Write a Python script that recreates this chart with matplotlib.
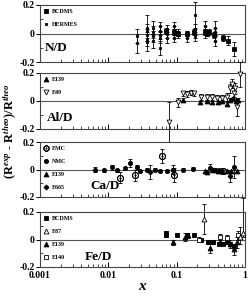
import numpy as np
import matplotlib
matplotlib.use("Agg")
import matplotlib.pyplot as plt
from matplotlib.lines import Line2D
from matplotlib.ticker import FixedLocator, NullFormatter

plt.rcParams['font.family'] = ['Liberation Serif', 'DejaVu Serif']
plt.rcParams['font.weight'] = 'bold'
plt.rcParams['mathtext.fontset'] = 'custom'
plt.rcParams['mathtext.rm'] = 'Liberation Serif:bold'
plt.rcParams['mathtext.it'] = 'Liberation Serif:bold:italic'
plt.rcParams['mathtext.bf'] = 'Liberation Serif:bold'

# ---- N/D ----
bcdms_n_x = [0.07, 0.09, 0.106, 0.14, 0.18, 0.26, 0.28, 0.30, 0.35, 0.47, 0.57, 0.68]
bcdms_n_y = [0.02, 0.01, 0.0, 0.0, 0.01, 0.01, 0.0, 0.01, -0.01, -0.03, -0.05, -0.11]
bcdms_n_e = [0.02, 0.02, 0.02, 0.02, 0.02, 0.02, 0.02, 0.02, 0.02, 0.02, 0.03, 0.05]

hermes_n_x = [0.026, 0.026,
              0.0365, 0.0365, 0.0365, 0.0365, 0.0365,
              0.0456, 0.0456, 0.0456, 0.0456,
              0.057, 0.057, 0.057, 0.057, 0.057,
              0.0716, 0.0716, 0.0716,
              0.0916, 0.0916, 0.0916, 0.0916,
              0.106, 0.106,
              0.141, 0.141, 0.141,
              0.186, 0.186, 0.186, 0.186,
              0.26, 0.26, 0.26,
              0.365, 0.365, 0.365, 0.365]
hermes_n_y = [-0.02, -0.07,
              0.04, 0.02, -0.01, -0.04, -0.06,
              0.04, 0.01, -0.02, -0.05,
              0.05, 0.02, -0.01, -0.03, -0.10,
              0.03, 0.0, -0.03,
              0.05, 0.02, 0.0, -0.03,
              0.01, -0.01,
              0.0, -0.01, -0.03,
              0.13, 0.03, 0.0, -0.02,
              0.05, 0.02, 0.0,
              0.04, 0.01, -0.02, -0.05]
hermes_n_e = [0.05, 0.07,
              0.09, 0.05, 0.04, 0.05, 0.06,
              0.05, 0.04, 0.04, 0.05,
              0.03, 0.03, 0.03, 0.04, 0.05,
              0.03, 0.03, 0.04,
              0.03, 0.03, 0.03, 0.03,
              0.02, 0.02,
              0.02, 0.02, 0.03,
              0.09, 0.04, 0.03, 0.03,
              0.04, 0.03, 0.03,
              0.05, 0.03, 0.03, 0.04]

# ---- Al/D ----
e139_al_x = [0.125, 0.22, 0.275, 0.33, 0.40, 0.46, 0.54, 0.60, 0.67, 0.74, 0.80]
e139_al_y = [0.01, -0.01, 0.0, -0.01, -0.01, 0.0, -0.02, 0.01, 0.02, 0.0, 0.01]
e139_al_e = [0.01, 0.01, 0.01, 0.01, 0.01, 0.01, 0.01, 0.01, 0.01, 0.01, 0.01]

e49_al_x = [0.0775, 0.104, 0.125, 0.14, 0.16, 0.18, 0.224, 0.275, 0.33, 0.386,
            0.46, 0.54, 0.60, 0.64, 0.68, 0.72, 0.77, 0.84]
e49_al_y = [-0.15, -0.01, 0.055, 0.05, 0.06, 0.055, 0.03, 0.03, 0.03, 0.02,
            0.02, 0.03, 0.09, 0.125, 0.06, 0.09, -0.045, 0.19]
e49_al_e = [0.14, 0.03, 0.02, 0.02, 0.02, 0.02, 0.02, 0.02, 0.02, 0.02,
            0.02, 0.03, 0.03, 0.03, 0.03, 0.04, 0.065, 0.09]

# ---- Ca/D ----
emc_ca_x = [0.0148, 0.0247, 0.0605, 0.092, 0.48]
emc_ca_y = [-0.06, -0.04, 0.10, -0.04, -0.01]
emc_ca_e = [0.04, 0.04, 0.05, 0.05, 0.02]

nmc_ca_x = [0.0064, 0.0085, 0.0112, 0.0133, 0.0176, 0.0208, 0.026, 0.029, 0.0365,
            0.048, 0.057, 0.0716, 0.089, 0.125, 0.176, 0.31, 0.36, 0.42, 0.70]
nmc_ca_y = [0.0, -0.005, 0.015, -0.005, 0.01, 0.045, 0.02, -0.01, 0.0,
            0.0, -0.01, -0.01, 0.0, 0.0, 0.005, 0.01, 0.0, -0.005, 0.02]
nmc_ca_e = [0.02, 0.01, 0.015, 0.01, 0.01, 0.03, 0.015, 0.01, 0.01,
            0.01, 0.01, 0.01, 0.01, 0.01, 0.01, 0.03, 0.01, 0.01, 0.08]

e139_ca_x = [0.26, 0.28, 0.34, 0.40, 0.46, 0.55, 0.62, 0.76]
e139_ca_y = [-0.01, -0.02, 0.0, -0.01, -0.01, -0.01, -0.01, -0.01]
e139_ca_e = [0.01, 0.01, 0.01, 0.01, 0.01, 0.01, 0.01, 0.01]

e665_ca_x = [0.041, 0.089, 0.60]
e665_ca_y = [-0.02, 0.0, -0.05]
e665_ca_e = [0.05, 0.03, 0.04]

# ---- Fe/D ----
bcdms_fe_x = [0.07, 0.07, 0.10, 0.14, 0.18, 0.23, 0.29, 0.34, 0.41, 0.48, 0.54, 0.60, 0.68]
bcdms_fe_y = [0.05, 0.03, 0.035, 0.03, 0.03, 0.0, -0.02, -0.02, -0.03, -0.03, -0.02, -0.03, -0.05]
bcdms_fe_e = [0.01, 0.01, 0.01, 0.01, 0.01, 0.01, 0.01, 0.01, 0.01, 0.01, 0.01, 0.01, 0.02]

e87_fe_x = [0.25, 0.85, 0.94]
e87_fe_y = [0.15, 0.02, 0.05]
e87_fe_lo = [0.11, 0.05, 0.03]
e87_fe_hi = [0.11, 0.07, 0.25]

e139_fe_x = [0.089, 0.133, 0.147, 0.31, 0.43, 0.60, 0.68, 0.76]
e139_fe_y = [-0.02, 0.02, 0.03, -0.06, -0.02, -0.03, -0.07, -0.02]
e139_fe_e = [0.02, 0.03, 0.02, 0.04, 0.02, 0.03, 0.04, 0.04]

e140_fe_x = [0.21, 0.43, 0.54, 0.80]
e140_fe_y = [0.0, 0.02, 0.01, 0.03]
e140_fe_e = [0.02, 0.02, 0.02, 0.03]

panel_names = ['N/D', 'Al/D', 'Ca/D', 'Fe/D']


def eb(ax, x, y, err, marker, ms, filled=True):
    mfc = 'black' if filled else 'white'
    c = ax.errorbar(x, y, yerr=err, fmt='', marker=marker, ls='none', ms=ms,
                    mfc=mfc, mec='black', mew=0.6, color='black', ecolor='black',
                    elinewidth=0.6, capsize=1.5, capthick=0.6, zorder=3)
    c.lines[0].set_clip_on(False)
    for a in c.lines[1]:
        a.set_clip_on(False)
    for a in c.lines[2]:
        a.set_clip_on(False)


def h(marker, ms, filled=True):
    return Line2D([], [], ls='none', marker=marker, ms=ms,
                  mfc='black' if filled else 'white', mec='black', mew=0.6)


fig = plt.figure(figsize=(2.49, 2.98), dpi=100)
L, W = 40 / 249, 205 / 249
tops = [5, 73, 142, 212]
bots = [62, 129, 197, 267]
axes = []
for t, b in zip(tops, bots):
    axes.append(fig.add_axes([L, 1 - b / 298, W, (b - t) / 298]))

for i, ax in enumerate(axes):
    ax.set_xscale('log')
    ax.set_xlim(0.001, 1)
    ax.set_ylim(-0.2, 0.2)
    ax.axhline(0, color='#555555', lw=0.8, zorder=1)
    ax.set_yticks([-0.2, 0, 0.2])
    ax.set_yticklabels(['-0.2', '0', '0.2'])
    ax.yaxis.set_minor_locator(FixedLocator([-0.1, 0.1]))
    ax.tick_params(axis='y', which='major', direction='out', length=3, width=0.7,
                   labelsize=7, pad=1)
    ax.tick_params(axis='y', which='minor', direction='in', length=2, width=0.5)
    ax.tick_params(axis='x', which='major', direction='in', length=3.5, width=0.7,
                   labelsize=7, pad=3)
    ax.tick_params(axis='x', which='minor', direction='in', length=2, width=0.5)
    for s in ax.spines.values():
        s.set_color('#444444')
        s.set_linewidth(0.8)
    if i < 3:
        ax.xaxis.set_major_formatter(NullFormatter())
        ax.xaxis.set_minor_formatter(NullFormatter())
    else:
        ax.set_xticks([0.001, 0.01, 0.1, 1])
        ax.set_xticklabels(['0.001', '0.01', '0.1', '1'])
        ax.xaxis.set_minor_formatter(NullFormatter())

leg_kw = dict(loc='upper left', frameon=False, handlelength=0.8,
              handletextpad=0.6, borderaxespad=0.3, borderpad=0.3,
              labelspacing=1.35, prop={'weight': 'bold', 'size': 4.3})

# N/D
ax = axes[0]
eb(ax, bcdms_n_x, bcdms_n_y, bcdms_n_e, 's', 3)
eb(ax, hermes_n_x, hermes_n_y, hermes_n_e, 's', 1.8)
ax.legend([h('s', 3), h('s', 1.8)], ['BCDMS', 'HERMES'], **leg_kw)

# Al/D
ax = axes[1]
eb(ax, e139_al_x, e139_al_y, e139_al_e, '^', 3.5)
eb(ax, e49_al_x, e49_al_y, e49_al_e, 'v', 3.5, filled=False)
ax.legend([h('^', 3.5), h('v', 3.5, False)], ['E139', 'E49'], **leg_kw)

# Ca/D
ax = axes[2]
eb(ax, nmc_ca_x, nmc_ca_y, nmc_ca_e, 'o', 3)
eb(ax, e139_ca_x, e139_ca_y, e139_ca_e, '^', 3.5)
eb(ax, e665_ca_x, e665_ca_y, e665_ca_e, 'D', 2.6)
eb(ax, emc_ca_x, emc_ca_y, emc_ca_e, r'$\odot$', 4.5)
ax.legend([h(r'$\odot$', 4), h('o', 3), h('^', 3.5), h('D', 2.6)],
          ['EMC', 'NMC', 'E139', 'E665'], **leg_kw)

# Fe/D
ax = axes[3]
eb(ax, bcdms_fe_x, bcdms_fe_y, bcdms_fe_e, 's', 3)
eb(ax, e139_fe_x, e139_fe_y, e139_fe_e, '^', 3.5)
eb(ax, e140_fe_x, e140_fe_y, e140_fe_e, 's', 3.2, filled=False)
eb(ax, e87_fe_x, e87_fe_y, [e87_fe_lo, e87_fe_hi], '^', 3.5, filled=False)
ax.legend([h('s', 3), h('^', 3.5, False), h('^', 3.5), h('s', 3.2, False)],
          ['BCDMS', 'E87', 'E139', 'E140'], **leg_kw)

label_pos = [(0.078, 0.25), (0.098, 0.2), (0.317, 0.2), (0.283, 0.18)]
for ax, name, (px, py) in zip(axes, panel_names, label_pos):
    ax.text(px, py, name, transform=ax.transAxes, ha='center', va='center',
            fontsize=9.5, fontweight='bold')

axes[3].set_xlabel('$x$', fontsize=11, labelpad=0)
fig.text(0.038, 0.56, r'(R$^{exp}$ - R$^{theo}$)/R$^{theo}$', rotation=90,
         ha='center', va='center', fontsize=9, fontweight='bold')

fig.savefig('out.png', dpi=100)
